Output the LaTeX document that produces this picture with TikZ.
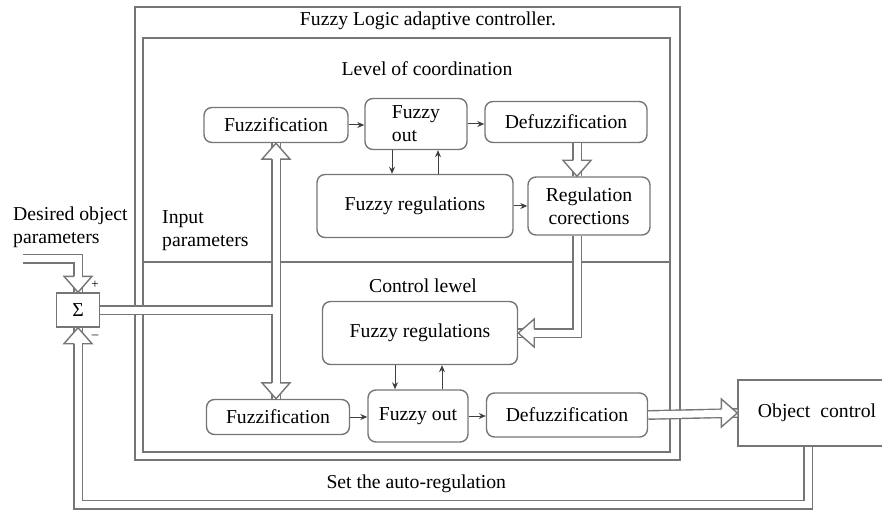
\documentclass[tikz,border=0pt]{standalone}
\usepackage{fontspec}
\setmainfont{Liberation Serif}
\usetikzlibrary{arrows.meta}
\definecolor{linegray}{RGB}{118,118,118}

\tikzset{
  block/.style={draw=linegray, line width=1.4pt, rounded corners=8pt, align=center, inner sep=0pt},
  frame/.style={draw=linegray, line width=2pt},
  pipe/.style={draw=linegray, line width=1.4pt, double=white, double distance=7pt},
  link/.style={draw=black!75, line width=1pt, -{Stealth[length=7pt,width=6pt]}},
  hhead/.pic={\filldraw[draw=linegray, fill=white, line width=1.4pt] (-16,-4.2) -- (-16,-14) -- (0,0) -- (-16,14) -- (-16,4.2);}
}

\begin{document}
\begin{tikzpicture}[x=1pt, y=-1pt, font=\fontsize{19.7}{23}\selectfont]
    \useasboundingbox (0,0) rectangle (882,510);

    \draw[frame] (135,7) rectangle (680,460);
    \draw[frame] (143,38) rectangle (670,452);
    \draw[frame, line width=1.4pt] (143,262) -- (670,262);

    \node (ttl) at (428,21) {Fuzzy Logic adaptive controller.};
    \node (coord) at (427,69) {Level of coordination};
    \node (ctrl) at (423,286) {Control lewel};
    \node[anchor=west] (auto) at (323,484) {Set the auto-regulation};
    \node[anchor=west, align=left, inner sep=0pt] (desired) at (13,227) {Desired object\\parameters};
    \node[anchor=west, align=left, inner sep=0pt] (input) at (162,231) {Input\\parameters};

    \node[block, minimum width=144pt, minimum height=35pt] (fuzA) at (276,125) {Fuzzification};
    \node[block, minimum width=102pt, minimum height=51pt, align=left] (outA) at (416,124) {Fuzzy\\out};
    \node[block, minimum width=162pt, minimum height=41pt] (defA) at (566,122) {Defuzzification};
    \node[block, minimum width=196pt, minimum height=63pt] (regA) at (415,206) {Fuzzy regulations};
    \node[block, minimum width=122pt, minimum height=58pt] (corA) at (589,206) {Regulation\\corections};

    \node[block, minimum width=195pt, minimum height=63pt] (regB) at (420,333) {Fuzzy regulations};
    \node[block, minimum width=143pt, minimum height=35pt] (fuzB) at (278,417) {Fuzzification};
    \node[block, minimum width=100pt, minimum height=52pt] (outB) at (418,416) {Fuzzy out};
    \node[block, minimum width=161pt, minimum height=44pt] (defB) at (567,415) {Defuzzification};

    \node[draw=linegray, line width=1.4pt, minimum width=158pt, minimum height=66pt] (obj) at (817,413) {Object\ \ control};
    \node[draw=linegray, line width=1.4pt, minimum width=43pt, minimum height=34pt, inner sep=0pt] (sum) at (78,310) {Σ};
    \node[font=\fontsize{13}{14}\selectfont, inner sep=0pt] (plus) at (95,285) {+};
    \node[font=\fontsize{13}{14}\selectfont, inner sep=0pt] (minus) at (95,337) {–};

    \draw[link] (fuzA.east) -- (fuzA.east -| outA.west);
    \draw[link] (outA.east) -- (outA.east -| defA.west);
    \draw[link] ([xshift=-24pt]outA.south) -- ([xshift=-24pt]outA.south |- regA.north);
    \draw[link] ([xshift=22pt]outA.south |- regA.north) -- ([xshift=22pt]outA.south);
    \draw[link] (regA.east) -- (regA.east -| corA.west);

    \draw[link] (fuzB.east) -- (fuzB.east -| outB.west);
    \draw[link] (outB.east) -- (outB.east -| defB.west);
    \draw[link] ([xshift=-23pt]outB.north |- regB.south) -- ([xshift=-23pt]outB.north);
    \draw[link] ([xshift=24pt]outB.north) -- ([xshift=24pt]outB.north |- regB.south);

    \draw[pipe] ([xshift=11pt]defA.south) -- ([xshift=11pt]defA.south |- corA.north);
    \pic[rotate=-90] at ([xshift=11pt]defA.south |- corA.north) {hhead};
    \draw[pipe] ([xshift=-12pt]corA.south) |- (regB.east);
    \pic[rotate=180] at (regB.east) {hhead};

    \coordinate (dstart) at (23,259);
    \draw[pipe] (dstart) -| (sum.north);
    \pic[rotate=-90] at (sum.north) {hhead};

    \coordinate (tee) at (fuzA.south |- sum.east);
    \draw[pipe] (fuzA.south) -- (fuzA.south |- fuzB.north);
    \pic[rotate=90] at (fuzA.south) {hhead};
    \pic[rotate=-90] at (fuzA.south |- fuzB.north) {hhead};
    \draw[pipe] (sum.east) -- ([xshift=-3.5pt]tee);
    \draw[white, line width=7pt] ([xshift=-5pt]tee) -- (tee);

    \draw[pipe] (defB.east) -- (obj.west);
    \pic at (obj.west) {hhead};

    \draw[pipe] ([xshift=-9pt]obj.south) -- ++(0,58) -| (sum.south);
    \pic[rotate=90] at (sum.south) {hhead};
\end{tikzpicture}
\end{document}
